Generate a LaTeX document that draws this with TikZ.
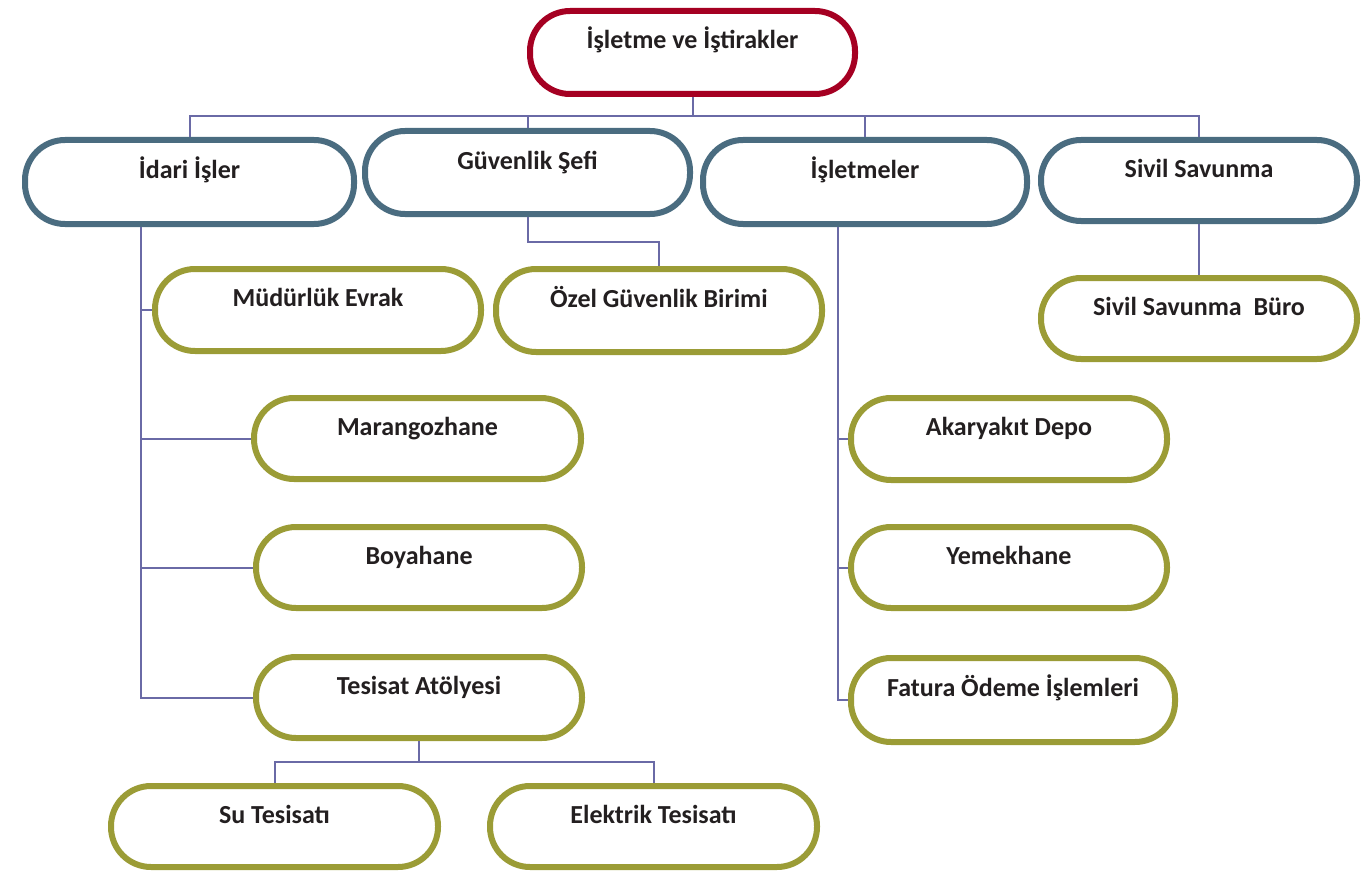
\documentclass[tikz,border=0pt]{standalone}
\usepackage{fontspec}
\setmainfont{Carlito}
\definecolor{rootred}{HTML}{A50022}
\definecolor{unitblue}{HTML}{4A6C80}
\definecolor{suboliv}{HTML}{9B9C36}
\definecolor{linkpurple}{HTML}{6A6AA6}
\definecolor{txtdark}{HTML}{231F20}
\tikzset{
  orgbox/.style 2 args={rectangle, rounded corners=40pt, line width=6pt, fill=white,
    minimum width=#1pt, minimum height=#2pt, inner sep=0pt},
  rootbox/.style={orgbox={325}{83}, draw=rootred},
  unitbox/.style={draw=unitblue},
  subbox/.style={draw=suboliv},
  lbl/.style={font=\fontsize{26}{30}\selectfont\bfseries, text=txtdark,
    text height=0.7em, text depth=0.2em, inner sep=0pt, yshift=6pt},
  link/.style={draw=linkpurple, line width=2pt}
}
\begin{document}
\begin{tikzpicture}[x=1pt, y=-1pt]
\useasboundingbox (0,0) rectangle (1371,872);

% top level
\node[rootbox, label={[lbl]center:İşletme ve İştirakler}] (root) at (692.5,52.5) {};

% departments
\node[orgbox={329}{84}, unitbox, label={[lbl]center:İdari İşler}] (idari) at (189.5,182) {};
\node[orgbox={325}{83}, unitbox, label={[lbl]center:Güvenlik Şefi}] (guv) at (527.5,172.5) {};
\node[orgbox={324}{84}, unitbox, label={[lbl]center:İşletmeler}] (islet) at (865,182) {};
\node[orgbox={316}{81}, unitbox, label={[lbl]center:Sivil Savunma}] (sivil) at (1199,180.5) {};

% units
\node[orgbox={326}{82}, subbox, label={[lbl]center:Müdürlük Evrak}] (mud) at (318,310) {};
\node[orgbox={326}{83}, subbox, label={[lbl]center:Özel Güvenlik Birimi}] (ozel) at (659,310.5) {};
\node[orgbox={316}{81}, subbox, label={[lbl]center:Sivil Savunma\ \ Büro}] (buro) at (1199,318.5) {};
\node[orgbox={327}{81}, subbox, label={[lbl]center:Marangozhane}] (mar) at (417.5,438.5) {};
\node[orgbox={326}{81}, subbox, label={[lbl]center:Boyahane}] (boy) at (419,567.5) {};
\node[orgbox={326}{81}, subbox, label={[lbl]center:Tesisat Atölyesi}] (tes) at (419,697.5) {};
\node[orgbox={316}{82}, subbox, label={[lbl]center:Akaryakıt Depo}] (aka) at (1009,439) {};
\node[orgbox={316}{81}, subbox, label={[lbl]center:Yemekhane}] (yem) at (1009,567.5) {};
\node[orgbox={324}{84}, subbox, label={[lbl]center:Fatura Ödeme İşlemleri}] (fat) at (1013,700) {};
\node[orgbox={327}{81}, subbox, label={[lbl]center:Su Tesisatı}] (su) at (274.5,826.5) {};
\node[orgbox={327}{81}, subbox, label={[lbl]center:Elektrik Tesisatı}] (elk) at (653.5,826.5) {};

% connectors: top bus to the departments
\coordinate (bus) at ([yshift=-19pt]root.south);
\draw[link] (root.south) -- (bus) -| (idari.north);
\draw[link] (bus) -| (guv.north);
\draw[link] (bus) -| (islet.north);
\draw[link] (bus) -| (sivil.north);

% İdari İşler trunk
\coordinate (idtrunk) at ([xshift=-48.5pt]idari.south);
\draw[link] (idtrunk) |- (tes.west);
\draw[link] (idtrunk |- mud.west) -- (mud.west);
\draw[link] (idtrunk |- mar.west) -- (mar.west);
\draw[link] (idtrunk |- boy.west) -- (boy.west);

% Güvenlik Şefi step
\coordinate (gvstep) at ([yshift=-25pt]guv.south);
\draw[link] (guv.south) -- (gvstep) -| (ozel.north);

% İşletmeler trunk
\coordinate (istrunk) at ([xshift=-27pt]islet.south);
\draw[link] (istrunk) |- (fat.west);
\draw[link] (istrunk |- aka.west) -- (aka.west);
\draw[link] (istrunk |- yem.west) -- (yem.west);

% Sivil Savunma
\draw[link] (sivil.south) -- (buro.north);

% Tesisat Atölyesi split
\coordinate (tsstep) at ([yshift=-21pt]tes.south);
\draw[link] (tes.south) -- (tsstep) -| (su.north);
\draw[link] (tsstep) -| (elk.north);
\end{tikzpicture}
\end{document}
